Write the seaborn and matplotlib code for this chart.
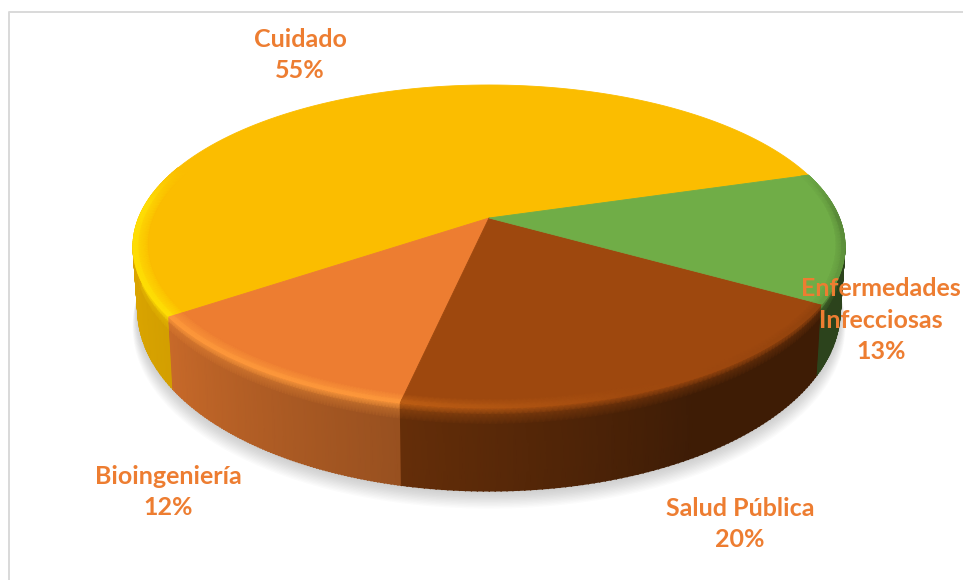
import numpy as np
import matplotlib
matplotlib.use('Agg')
import matplotlib.pyplot as plt
import matplotlib.colors as mcolors
import seaborn as sns

# Values
categories = ['Cuidado', 'Bioingeniería', 'Salud Pública', 'Enfermedades\nInfecciosas']
shares = [55, 12, 20, 13]
top_colors = ['#FBBD00', '#ED7D31', '#9E480E', '#70AD47']
label_color = '#ED7D31'

# Perspective of the disc, in pixels
CX, CY = 489, 218
A, C, K = 350.4, 156.5, 0.1765
START = 16.7


def project(theta, r=1.0, frac=0.0):
    t = np.radians(theta)
    x, y = r * np.cos(t), r * np.sin(t)
    w = 1 + K * y
    drop = frac * (58 - 25 * np.sin(t))
    return CX + (A * x / w) * (1 - 0.013 * frac), CY - C * y / w + drop


def side_shade(theta):
    # brightness of the wall, theta in 160..385 degrees
    return np.interp(theta, [160, 215, 258, 300, 385], [0.92, 0.84, 0.64, 0.39, 0.39])


def rim_light(theta):
    # >0 lights the edge, <0 darkens it
    return np.interp(theta, [160, 175, 215, 258, 290, 330, 360, 377],
                     [0.0, 0.9, 0.9, 0.9, 0.05, -0.15, -0.4, -0.05])


def rim_color(rgb, theta):
    h = rim_light(theta)[:, None]
    base = rgb[None, :]
    light = np.clip(base * 1.12 + np.array([0.06, 0.06, 0.02]), 0, 1)
    dark = base * 0.45
    return np.where(h >= 0, base + (light - base) * h, base + (dark - base) * -h)


sns.set_theme(style='white')
plt.rcParams['font.family'] = ['Lato', 'DejaVu Sans']

fig, ax = plt.subplots(figsize=(9.63, 5.80), dpi=100)
ax.set_position([0, 0, 1, 1])
ax.set_xlim(0, 963)
ax.set_ylim(580, 0)
ax.axis('off')

# chart frame
ax.plot([9, 9, 963], [580, 12, 12], color='#D9D9D9', lw=1.4, zorder=0)

# soft shadow under the disc
all_t = np.linspace(0, 360, 361)
for i in range(14):
    sx, sy = project(all_t, 1.0, 1.0)
    grow = 1 + i * 0.0011
    ax.fill(CX + (sx - CX) * grow, sy + i * 1.35, color='#707070', alpha=0.028, lw=0, zorder=0.5)

# slices
ends = START + np.cumsum(shares) * 3.6
starts = np.r_[START, ends[:-1]]
palette = sns.color_palette(top_colors)

for a0, a1, col in zip(starts, ends, palette):
    rgb = np.array(mcolors.to_rgb(col))
    t = np.linspace(a0, a1, 120)
    px, py = project(t)
    ax.fill(np.r_[CX, px], np.r_[CY, py], color=rgb, lw=0.6, zorder=2)

    # wall and bevel only on the visible front part
    lo = max(a0, 160)
    if a1 <= lo:
        continue
    t = np.linspace(lo, a1, 90)
    wall = rgb[None, :] * side_shade(t)[:, None]
    rim = rim_color(rgb, t)

    fracs = np.array([0.0, 0.08, 0.2, 1.0])
    X = np.array([project(t, 1.0, f)[0] for f in fracs])
    Y = np.array([project(t, 1.0, f)[1] for f in fracs])
    mix = np.array([0.0, 0.65, 1.0, 1.0])
    cols = np.array([rim + (wall - rim) * m for m in mix])
    ax.pcolormesh(X, Y, cols, shading='gouraud', zorder=1)
    # smooth the lower edge of the wall
    ax.scatter(X[-1], Y[-1], s=1.2, c=wall, lw=0, zorder=1.1)

    # narrower bevel where the edge only darkens (right side)
    inner_r = np.where(rim_light(t) < 0, 0.975, 0.96)
    X = np.array([project(t, r)[0] for r in (inner_r, (inner_r + 2) / 3, np.ones_like(t))])
    Y = np.array([project(t, r)[1] for r in (inner_r, (inner_r + 2) / 3, np.ones_like(t))])
    inner = np.tile(rgb, (len(t), 1))
    cols = np.array([inner, inner + (rim - inner) * 0.85, rim])
    ax.pcolormesh(X, Y, cols, shading='gouraud', zorder=3)

# labels
ax.text(300, 55, f'{categories[0]}\n{shares[0]}%', ha='center', va='center',
        color=label_color, fontsize=18, fontweight='bold', linespacing=1.46, zorder=5)
ax.text(168, 492, f'{categories[1]}\n{shares[1]}%', ha='center', va='center',
        color=label_color, fontsize=18, fontweight='bold', linespacing=1.46, zorder=5)
ax.text(740, 524, f'{categories[2]}\n{shares[2]}%', ha='center', va='center',
        color=label_color, fontsize=18, fontweight='bold', linespacing=1.46, zorder=5)
ax.text(881, 320, f'{categories[3]}\n{shares[3]}%', ha='center', va='center',
        color=label_color, fontsize=18, fontweight='bold', linespacing=1.46, zorder=5)

plt.savefig('out.png', dpi=100)
